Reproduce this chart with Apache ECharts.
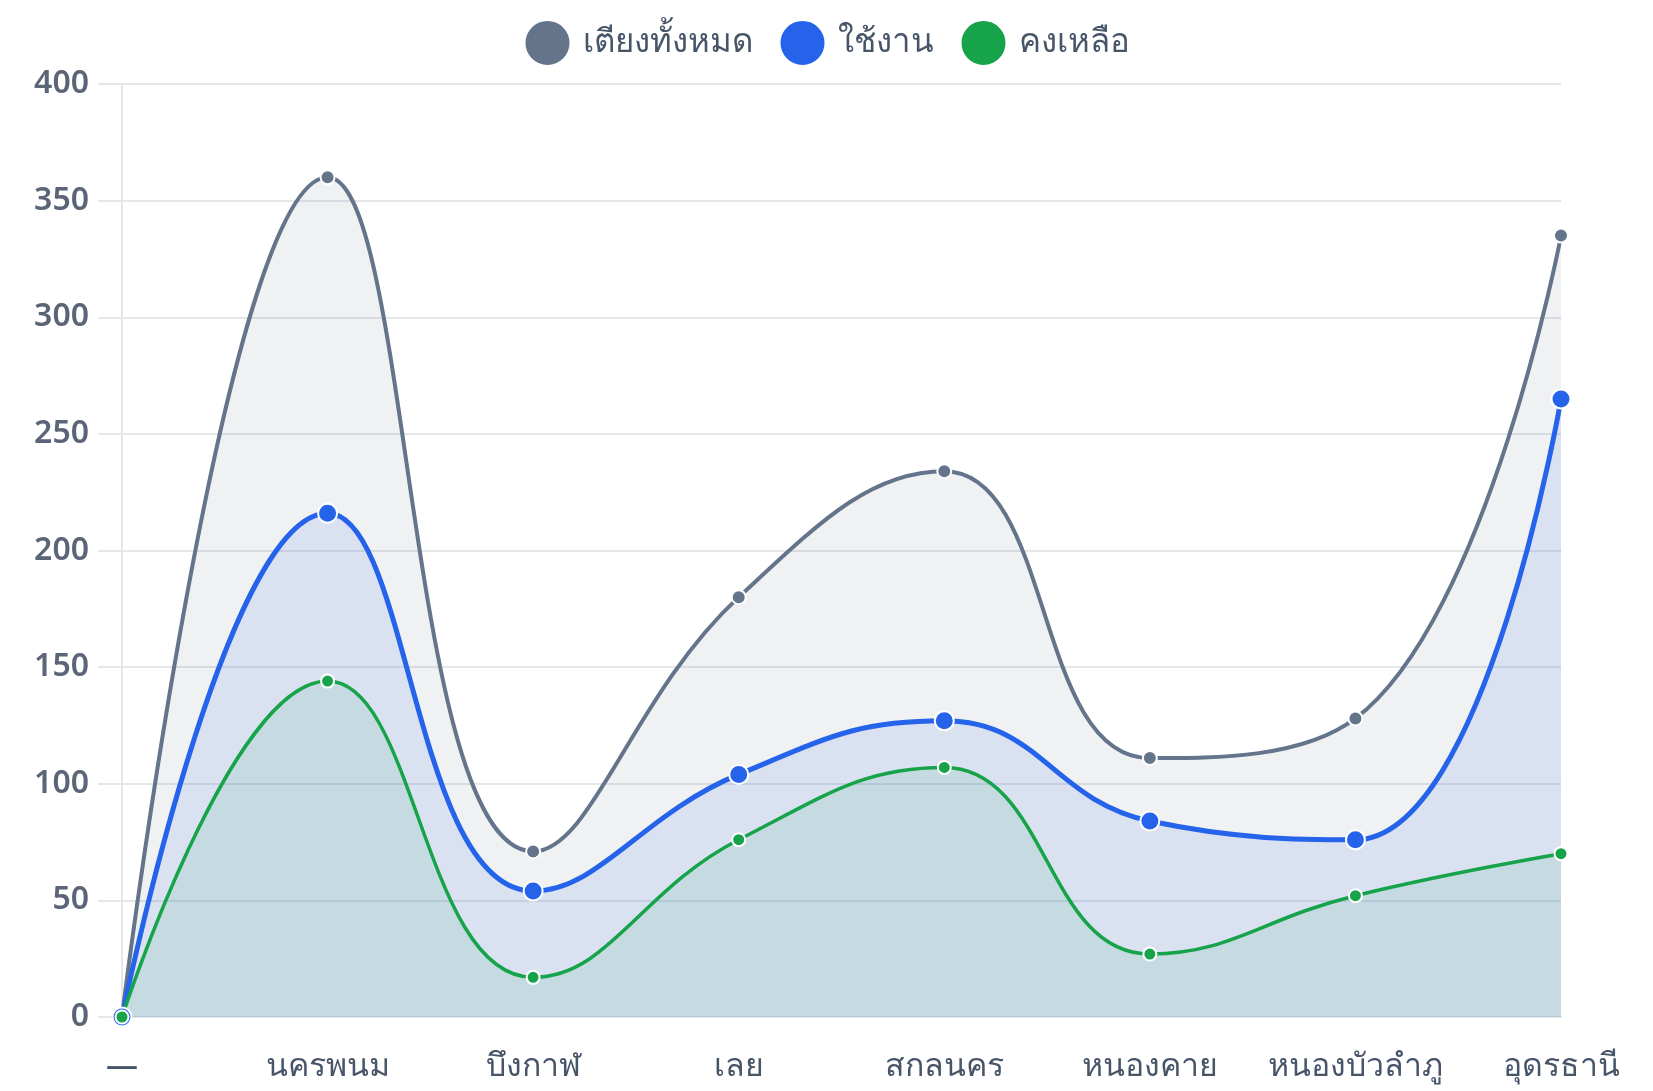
<!DOCTYPE html>
<html lang="th" style="height: 100%">
<head>
  <meta charset="utf-8">
</head>
<body style="height: 100%; margin: 0; background: #fff">
  <div id="container" style="height: 100%"></div>
  <script type="text/javascript" src="https://cdn.jsdelivr.net/npm/echarts@6/dist/echarts.min.js"></script>
  <script type="text/javascript">
    var provinces = ['—', 'นครพนม', 'บึงกาฬ', 'เลย', 'สกลนคร', 'หนองคาย', 'หนองบัวลำภู', 'อุดรธานี'];
    var totalBeds = [0, 360, 71, 180, 234, 111, 128, 335];
    var usedBeds = [0, 216, 54, 104, 127, 84, 76, 265];
    var freeBeds = [0, 144, 17, 76, 107, 27, 52, 70];

    var dom = document.getElementById('container');
    var myChart = echarts.init(dom, null, { renderer: 'canvas' });

    function lineSeries(name, data, color, lineWidth, symbolSize) {
      return {
        name: name,
        type: 'line',
        data: data,
        smooth: 0.45,
        symbol: 'circle',
        symbolSize: symbolSize,
        showSymbol: true,
        lineStyle: { color: color, width: lineWidth },
        itemStyle: { color: color, borderColor: '#fff', borderWidth: 2 },
        areaStyle: { color: color, opacity: 0.1 },
        emphasis: { disabled: true }
      };
    }

    var option = {
      animation: false,
      textStyle: { fontFamily: 'Noto Sans, sans-serif' },
      legend: {
        top: 14,
        left: 'center',
        icon: 'circle',
        itemWidth: 46,
        itemHeight: 46,
        itemGap: 26,
        textStyle: { fontSize: 33, color: '#475569', fontWeight: 500, padding: [0, 0, 0, 7] },
        data: ['เตียงทั้งหมด', 'ใช้งาน', 'คงเหลือ']
      },
      grid: { left: 122, right: 92, top: 84, bottom: 74, containLabel: false },
      xAxis: {
        type: 'category',
        boundaryGap: false,
        data: provinces,
        axisLine: { show: true, lineStyle: { color: '#e5e7eb', width: 2 } },
        axisTick: { show: false },
        axisLabel: { fontSize: 32, color: '#475569', fontWeight: 500, margin: 34, interval: 0 },
        splitLine: { show: false }
      },
      yAxis: {
        type: 'value',
        min: 0,
        max: 400,
        interval: 50,
        axisLine: { show: true, lineStyle: { color: '#e5e7eb', width: 2 } },
        axisTick: { show: true, length: 24, lineStyle: { color: '#e5e7eb', width: 2 } },
        axisLabel: { fontSize: 32, color: '#5b6577', fontWeight: 600, margin: 33 },
        splitLine: { lineStyle: { color: '#e5e7eb', width: 2 } }
      },
      series: [
        lineSeries('เตียงทั้งหมด', totalBeds, '#64748b', 4, 14),
        lineSeries('ใช้งาน', usedBeds, '#2563eb', 5, 19),
        lineSeries('คงเหลือ', freeBeds, '#16a34a', 3.5, 13)
      ]
    };

    myChart.setOption(option);
    window.addEventListener('resize', myChart.resize);
  </script>
</body>
</html>
